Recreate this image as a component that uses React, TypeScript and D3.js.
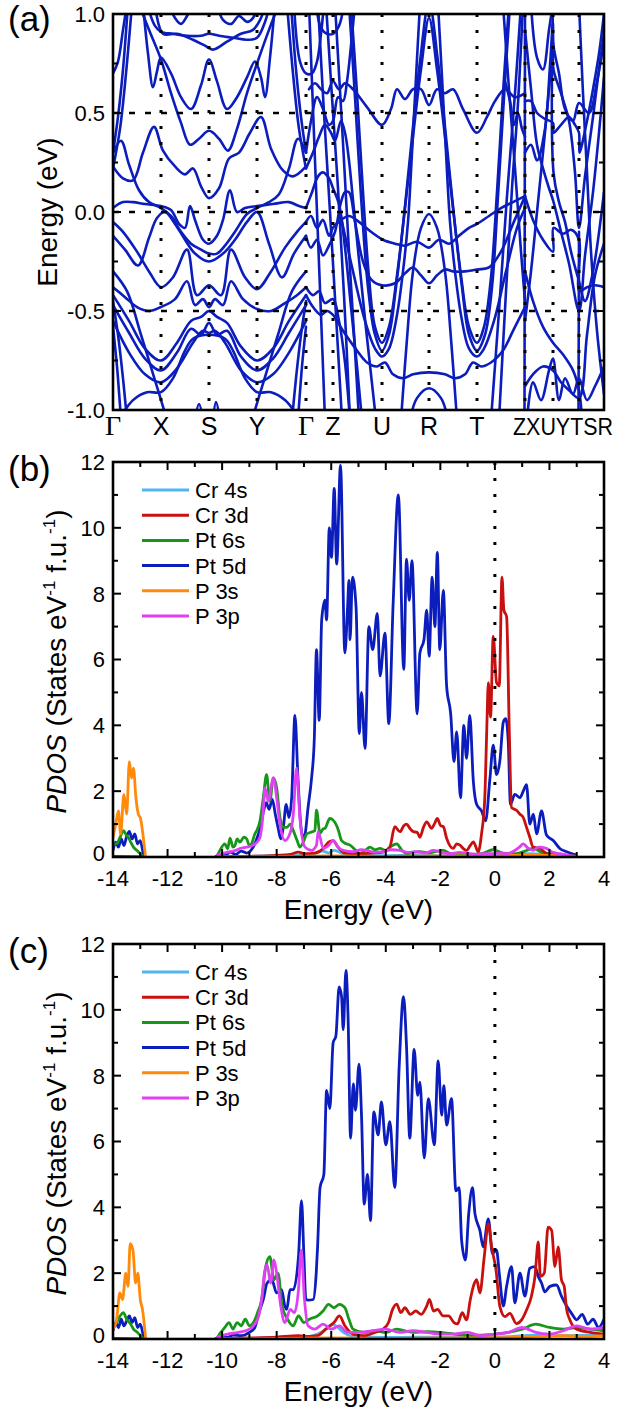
import React from "react";
import * as d3 from "d3";

type P = [number, number];
type Q = [number, number] | null;

// ---------- (a) band structure ----------
const kTicks = [0, 48, 96, 144, 193, 220, 269, 316, 364, 412, 440, 466, 491];
const kNames = ["Γ", "X", "S", "Y", "Γ", "Z", "U", "R", "T"];
const kTail = "ZXUYTSR";
const energyTicks = [1.0, 0.5, 0.0, -0.5, -1.0];
const energyMinor = [0.75, 0.25, -0.25, -0.75];
const energyGrid = [0.5, 0.0, -0.5];

const bands: P[][] = [
  // Γ-X-S-Y-Γ
  [[0, 0.7], [5, 0.76], [10, 0.92], [14, 1.05]],
  [[0, 0.3], [5, 0.48], [10, 0.72], [15, 1.05]],
  [[0, 0.22], [7, 0.42], [13, 0.7], [19, 1.05]],
  [[34, 1.05], [42, 0.94], [48, 0.91], [60, 0.9], [74, 0.89], [88, 0.89], [96, 0.9], [106, 0.89], [120, 0.88], [134, 0.87], [144, 0.88], [152, 0.96], [157, 1.05]],
  [[42, 1.05], [50, 0.9], [64, 0.9], [80, 0.87], [92, 0.84], [100, 0.82], [114, 0.86], [128, 0.9], [140, 0.92], [148, 0.98], [152, 1.05]],
  [[56, 1.05], [62, 0.98], [68, 0.95], [74, 0.99], [80, 1.05]],
  [[104, 1.05], [110, 0.97], [118, 0.95], [126, 0.99], [134, 0.96], [140, 0.98], [144, 1.05]],
  [[26, 1.05], [36, 0.92], [48, 0.77], [58, 0.6], [68, 0.45], [77, 0.34], [86, 0.37], [96, 0.41], [106, 0.37], [115, 0.31], [124, 0.42], [134, 0.6], [144, 0.75], [156, 0.92], [166, 1.05]],
  [[30, 1.05], [35, 0.8], [40, 0.63], [44, 0.71], [48, 0.78], [58, 0.7], [68, 0.58], [78, 0.52], [88, 0.64], [96, 0.77], [104, 0.66], [114, 0.52], [124, 0.58], [134, 0.68], [142, 0.76], [148, 0.68], [152, 0.58], [157, 0.78], [162, 1.05]],
  [[0, 0.23], [10, 0.17], [20, 0.16], [30, 0.3], [41, 0.43], [50, 0.31], [62, 0.23], [72, 0.19], [80, 0.22], [88, 0.13], [96, 0.07], [106, 0.12], [116, 0.27], [126, 0.3], [137, 0.4], [148, 0.48], [158, 0.32], [170, 0.21], [180, 0.18], [193, 0.23]],
  [[0, 0.3], [8, 0.36], [16, 0.24], [26, 0.11], [36, 0.05], [48, 0.02], [58, -0.02], [68, -0.1], [78, -0.16], [88, -0.19], [96, -0.21], [104, -0.21], [112, -0.17], [122, -0.1], [134, -0.01], [144, 0.02], [156, 0.05], [166, 0.09], [176, 0.22], [185, 0.37], [193, 0.3]],
  [[0, 0.02], [10, 0.05], [20, 0.05], [32, 0.04], [48, 0.03], [58, 0.01], [66, -0.06], [72, -0.08], [77, 0.03], [82, -0.04], [90, -0.14], [96, -0.16], [104, -0.12], [110, -0.04], [117, 0.11], [124, 0.0], [132, 0.02], [144, 0.03], [160, 0.04], [176, 0.05], [186, 0.03], [193, 0.02]],
  [[0, -0.12], [12, -0.19], [25, -0.27], [36, -0.13], [44, -0.03], [52, 0.0], [62, -0.06], [72, -0.14], [82, -0.21], [96, -0.25], [110, -0.21], [122, -0.14], [134, -0.05], [144, 0.0], [156, -0.16], [169, -0.33], [181, -0.21], [193, -0.12]],
  [[0, -0.05], [10, -0.1], [24, -0.2], [36, -0.3], [48, -0.38], [60, -0.33], [74, -0.19], [84, -0.42], [96, -0.37], [108, -0.42], [118, -0.19], [132, -0.33], [144, -0.39], [158, -0.3], [172, -0.18], [184, -0.1], [193, -0.05]],
  [[0, -0.38], [12, -0.43], [24, -0.48], [36, -0.5], [48, -0.48], [62, -0.44], [74, -0.35], [82, -0.47], [90, -0.44], [96, -0.48], [102, -0.44], [110, -0.47], [118, -0.35], [130, -0.44], [144, -0.49], [158, -0.5], [172, -0.46], [184, -0.42], [193, -0.38]],
  [[0, -0.42], [16, -0.55], [32, -0.69], [48, -0.75], [64, -0.66], [78, -0.55], [88, -0.53], [96, -0.5], [104, -0.53], [114, -0.56], [128, -0.68], [144, -0.75], [160, -0.69], [176, -0.55], [193, -0.42]],
  [[0, -0.47], [16, -0.61], [32, -0.74], [48, -0.8], [64, -0.71], [78, -0.59], [88, -0.62], [96, -0.56], [104, -0.62], [114, -0.6], [128, -0.73], [144, -0.8], [160, -0.74], [176, -0.61], [193, -0.47]],
  [[0, -0.55], [16, -0.71], [32, -0.82], [48, -0.86], [64, -0.79], [80, -0.66], [90, -0.6], [96, -0.61], [102, -0.6], [112, -0.66], [128, -0.8], [144, -0.86], [160, -0.82], [176, -0.71], [193, -0.55]],
  [[6, -1.05], [20, -0.95], [34, -0.91], [48, -0.91], [60, -0.84], [72, -0.7], [80, -0.64], [96, -0.62], [112, -0.64], [120, -0.7], [132, -0.84], [144, -0.91], [158, -0.91], [172, -0.95], [187, -1.05]],
  [[0, -0.3], [14, -0.4], [28, -0.62], [42, -0.85], [54, -1.05]],
  [[139, -1.05], [151, -0.85], [165, -0.62], [179, -0.4], [193, -0.3]],
  [[0, -0.45], [5, -0.62], [10, -0.84], [14, -1.05]],
  [[0, -0.58], [4, -0.78], [8, -1.05]],
  [[179, -1.05], [183, -0.84], [188, -0.62], [193, -0.45]],
  [[185, -1.05], [189, -0.78], [193, -0.58]],
  [[174, 1.05], [180, 0.7], [186, 0.42], [193, 0.22]],
  [[178, 1.05], [183, 0.72], [188, 0.48], [193, 0.3]],
  [[82, -1.05], [86, -0.97], [90, -1.05]],
  [[100, -1.05], [103, -0.96], [107, -1.05]],
  // Γ-Z-U-R-T-Z
  [[181, 1.05], [187, 0.76], [193, 0.7], [199, 0.7], [204, 0.76], [208, 0.9], [211, 1.05]],
  [[203, 1.05], [208, 0.93], [214, 0.9], [220, 0.9], [226, 0.94], [231, 1.05]],
  [[196, 0.62], [202, 0.65], [208, 0.62], [214, 0.6], [220, 0.66], [226, 0.62], [232, 0.65], [240, 0.62], [254, 0.53], [269, 0.44], [278, 0.52], [284, 0.62], [292, 0.57], [300, 0.62], [308, 0.62], [316, 0.54], [324, 0.62], [332, 0.6], [340, 0.62], [350, 0.52], [364, 0.4], [374, 0.48], [382, 0.56], [392, 0.62], [402, 0.58], [412, 0.6]],
  [[193, 0.3], [198, 0.46], [204, 0.58], [210, 0.52], [216, 0.44], [220, 0.46], [225, 0.58], [230, 0.56], [234, 0.66], [238, 0.84], [242, 1.05]],
  [[193, 0.22], [200, 0.3], [206, 0.38], [212, 0.44], [218, 0.4], [222, 0.36], [228, 0.46], [232, 0.4], [236, 0.26], [240, 0.06], [246, -0.24], [252, -0.54], [258, -0.82], [263, -1.05]],
  [[193, 0.02], [199, 0.1], [205, 0.18], [210, 0.2], [216, 0.17], [220, 0.12], [226, 0.04], [232, -0.18], [238, -0.48], [244, -0.78], [249, -1.05]],
  [[193, -0.05], [198, -0.02], [204, -0.08], [210, -0.04], [216, -0.12], [220, -0.08], [228, -0.04], [236, -0.02], [246, -0.05], [258, -0.1], [270, -0.14], [282, -0.16], [292, -0.17], [304, -0.15], [316, -0.18], [326, -0.14], [336, -0.16], [346, -0.12], [356, -0.08], [364, -0.06], [376, -0.02], [388, 0.02], [400, 0.05], [412, 0.08]],
  [[193, -0.12], [198, -0.18], [204, -0.14], [210, -0.22], [216, -0.17], [222, -0.1], [228, 0.05], [232, 0.1], [236, 0.1], [242, -0.05], [250, -0.25], [258, -0.34], [269, -0.37], [282, -0.36], [292, -0.31], [300, -0.28], [308, -0.32], [316, -0.36], [324, -0.32], [332, -0.29], [340, -0.3], [352, -0.3], [364, -0.29], [376, -0.28], [388, -0.2], [400, -0.06], [412, 0.08]],
  [[193, -0.38], [200, -0.42], [206, -0.4], [212, -0.46], [220, -0.44], [226, -0.55], [232, -0.76], [237, -1.05]],
  [[193, -0.42], [200, -0.48], [208, -0.52], [214, -0.5], [220, -0.52], [230, -0.6], [244, -0.7], [254, -0.76], [264, -0.78], [272, -0.76], [280, -0.82], [290, -0.84], [300, -0.82], [316, -0.81], [332, -0.82], [342, -0.84], [352, -0.82], [360, -0.76], [368, -0.78], [378, -0.76], [390, -0.7], [400, -0.6], [412, -0.48]],
  [[196, 1.05], [200, 0.52], [204, 0.0], [208, -0.52], [212, -1.05]],
  [[205, 1.05], [211, 0.5], [217, 0.0], [223, -0.52], [229, -1.05]],
  [[213, 1.05], [219, 0.58], [225, 0.12], [231, -0.42], [237, -1.05]],
  [[222, 1.05], [226, 0.7], [230, 0.35], [236, -0.2], [242, -0.7], [246, -1.05]],
  [[238, 1.05], [244, 0.6], [250, 0.1], [256, -0.33], [262, -0.58], [269, -0.66], [276, -0.58], [284, -0.32], [292, 0.02], [300, 0.38], [308, 0.72], [316, 0.98], [324, 0.72], [332, 0.38], [340, 0.02], [348, -0.32], [356, -0.58], [364, -0.66], [371, -0.58], [378, -0.33], [384, 0.1], [390, 0.6], [396, 1.05]],
  [[236, 1.05], [242, 0.58], [248, 0.08], [255, -0.38], [262, -0.62], [269, -0.7], [276, -0.62], [283, -0.38], [291, -0.02], [299, 0.38], [307, 0.76], [316, 1.06], [325, 0.76], [333, 0.38], [341, -0.02], [349, -0.38], [356, -0.62], [364, -0.7], [372, -0.62], [379, -0.38], [385, 0.08], [391, 0.58], [397, 1.05]],
  [[226, 0.02], [240, -0.3], [252, -0.55], [262, -0.69], [269, -0.73], [276, -0.69], [284, -0.52], [290, -0.3], [295, -0.05], [299, 0.3], [303, 0.68], [307, 1.05]],
  [[325, 1.05], [329, 0.68], [333, 0.3], [337, -0.05], [342, -0.3], [348, -0.52], [356, -0.69], [364, -0.73], [371, -0.69], [381, -0.55], [393, -0.3], [404, -0.08], [412, 0.02]],
  [[288, -1.05], [294, -0.64], [300, -0.3], [308, -0.08], [316, -0.01], [324, -0.08], [332, -0.3], [338, -0.64], [344, -1.05]],
  [[297, -1.05], [304, -0.94], [316, -0.89], [328, -0.94], [335, -1.05]],
  [[378, -1.05], [386, -0.5], [394, 0.08], [402, 0.6], [408, 1.05]],
  [[386, -1.05], [393, -0.4], [399, 0.12], [405, 0.55], [410, 1.05]],
  [[390, 1.05], [396, 0.62], [402, 0.22], [408, -0.2], [412, -0.45]],
  [[392, 0.66], [397, 0.56], [401, 0.44], [405, 0.5], [409, 0.42], [412, 0.38]],
  // Z|X-U|Y-T|S-R
  [[411.5, -1.05], [412, 1.05]],
  [[412, 0.56], [418, 0.56], [424, 0.5], [432, 0.47], [440, 0.45], [440.5, 0.4], [448, 0.44], [456, 0.48], [462, 0.44], [466, 0.4], [466.5, 0.3], [474, 0.46], [480, 0.62], [486, 0.8], [491, 1.0]],
  [[412, 0.08], [420, -0.04], [430, -0.14], [440, -0.2], [440.5, -0.08], [450, -0.11], [458, -0.09], [466, -0.14], [466.5, -0.4], [474, -0.38], [482, -0.37], [491, -0.38]],
  [[412, -0.55], [418, -0.3], [424, 0.0], [430, 0.3], [436, 0.62], [440, 0.86], [440.5, 0.72], [448, 0.6], [456, 0.46], [462, 0.2], [466, -0.08], [472, 0.18], [480, 0.48], [486, 0.72], [491, 0.9]],
  [[412, 0.92], [418, 0.62], [424, 0.34], [430, 0.22], [436, 0.12], [440, 0.06], [448, -0.1], [456, -0.26], [466, -0.5], [472, -0.22], [480, 0.1], [486, 0.4], [491, 0.68]],
  [[412, -0.88], [420, -0.82], [430, -0.78], [440, -0.8], [448, -0.86], [456, -0.9], [466, -0.94], [474, -0.62], [482, -0.32], [491, -0.16]],
  [[412, 0.3], [418, 0.34], [424, 0.26], [432, 0.42], [437, 0.74], [440, 0.96], [440.5, 0.84], [446, 0.7], [452, 0.52], [460, 0.46], [466, 0.55], [476, 0.5], [484, 0.66], [491, 0.86]],
  [[412, -0.3], [420, -0.45], [430, -0.58], [440, -0.66], [450, -0.72], [460, -0.8], [466, -0.9], [469, -1.05]],
  [[414, -1.05], [420, -0.86], [428, -0.95], [436, -0.8], [440, -0.74], [446, -0.95], [452, -0.84], [460, -0.92], [466, -0.84], [474, -0.95], [482, -0.88], [491, -0.78]],
  [[466, 1.05], [470, 0.6], [474, 0.2], [478, -0.2], [484, -0.6], [491, -0.92]],
  [[418, 1.05], [424, 0.78], [430, 0.72], [436, 0.92], [440, 1.05]],
  [[465.5, -1.05], [466, -0.1]],
  [[440, 1.05], [440.5, 0.2], [446, 0.05], [452, -0.05], [458, -0.2], [466, -0.35], [472, -0.45], [480, -0.3], [491, 0.1]],
];

// ---------- (b), (c) PDOS ----------
const orbitals = ["Cr 4s", "Cr 3d", "Pt 6s", "Pt 5d", "P 3s", "P 3p"];
const orbitalColors = ["#4fb6ee", "#c8100e", "#17961a", "#0c1dbd", "#ff8a0a", "#e040f4"];
const drawOrder = [3, 0, 2, 1, 4, 5];
const pdosXTicks = [-14, -12, -10, -8, -6, -4, -2, 0, 2, 4];
const pdosYTicks = [0, 2, 4, 6, 8, 10, 12];

const bCr4s: Q[] = [[-10.2, 0], [-9, 0.02], [-8, 0.04], [-7, 0.05], [-6.6, 0.1], [-6.3, 0.18], [-6.1, 0.12], [-5.9, 0.2], [-5.7, 0.15], [-5.5, 0.08], [-5, 0.05], [-4, 0.04], [-3, 0.05], [-2, 0.04], [-1, 0.03], [0, 0.04], [0.8, 0.08], [1.3, 0.1], [1.8, 0.08], [2.5, 0.04], [3, 0.01]];
const bCr3d: Q[] = [[-14, 0.02], [-12.84, 0], null, [-10.25, 0], [-9, 0.02], [-8, 0.05], [-7.5, 0.08], [-7.2, 0.15], [-7, 0.1], [-6.6, 0.12], [-6.3, 0.25], [-6.1, 0.45], [-5.93, 0.5], [-5.75, 0.3], [-5.5, 0.12], [-5, 0.1], [-4.5, 0.12], [-4.1, 0.15], [-3.85, 0.3], [-3.67, 0.92], [-3.48, 0.77], [-3.34, 0.95], [-3.24, 1.0], [-3.1, 0.85], [-2.99, 0.77], [-2.85, 0.75], [-2.75, 0.6], [-2.62, 0.9], [-2.5, 1.07], [-2.32, 0.87], [-2.22, 1.0], [-2.11, 1.17], [-1.99, 0.95], [-1.89, 0.92], [-1.77, 0.57], [-1.53, 0.26], [-1.4, 0.4], [-1.28, 0.36], [-1.15, 0.25], [-1.04, 0.2], [-0.9, 0.35], [-0.79, 0.46], [-0.61, 0.16], [-0.49, 0.7], [-0.37, 1.8], [-0.3, 3.8], [-0.24, 5.3], [-0.16, 4.25], [-0.06, 6.7], [0.06, 5.3], [0.16, 5.2], [0.26, 8.5], [0.33, 7.5], [0.43, 7.3], [0.53, 3.75], [0.61, 1.5], [0.79, 1.42], [0.92, 1.3], [1.04, 1.2], [1.16, 0.9], [1.28, 0.6], [1.4, 0.3], [1.65, 0.26], [1.89, 0.1], [2.2, 0.05], [2.6, 0.04], [3, 0.02]];
const bPt6s: Q[] = [[-14, 0.4], [-13.87, 0.4], [-13.74, 0.6], [-13.62, 0.8], [-13.5, 0.65], [-13.44, 0.6], [-13.35, 0.45], [-13.25, 0.3], [-13.1, 0.18], [-13, 0.1], [-12.88, 0], null, [-10.2, 0], [-10.08, 0.2], [-9.9, 0.4], [-9.8, 0.25], [-9.71, 0.57], [-9.6, 0.3], [-9.53, 0.35], [-9.45, 0.55], [-9.35, 0.45], [-9.2, 0.6], [-9.1, 0.55], [-9, 0.35], [-8.92, 0.4], [-8.8, 0.7], [-8.73, 0.8], [-8.61, 1.1], [-8.49, 1.8], [-8.37, 2.5], [-8.25, 1.7], [-8.12, 2.4], [-8, 2.1], [-7.88, 1.2], [-7.75, 0.9], [-7.63, 0.9], [-7.5, 1.0], [-7.39, 0.8], [-7.25, 0.5], [-7.15, 0.3], [-7, 0.5], [-6.9, 0.7], [-6.75, 0.75], [-6.6, 0.8], [-6.54, 1.42], [-6.41, 0.72], [-6.3, 0.85], [-6.23, 0.87], [-6.05, 1.17], [-5.93, 1.12], [-5.8, 0.95], [-5.74, 0.82], [-5.62, 0.5], [-5.45, 0.4], [-5.31, 0.36], [-5.1, 0.2], [-4.95, 0.1], [-4.75, 0.2], [-4.58, 0.3], [-4.4, 0.22], [-4.21, 0.26], [-4, 0.2], [-3.85, 0.3], [-3.6, 0.4], [-3.4, 0.2], [-3.24, 0.1], [-3, 0.15], [-2.75, 0.16], [-2.4, 0.12], [-2.1, 0.18], [-1.89, 0.2], [-1.6, 0.1], [-1.28, 0.1], [-0.9, 0.08], [-0.5, 0.1], [-0.06, 0.22], [0.3, 0.12], [0.79, 0.1], [1.1, 0.18], [1.4, 0.26], [1.7, 0.15], [2.02, 0.1], [2.3, 0.08], [2.63, 0.05], [3, 0.02]];
const bPt5d: Q[] = [[-14, 0.2], [-13.9, 0.45], [-13.8, 0.3], [-13.7, 0.55], [-13.6, 0.35], [-13.5, 0.62], [-13.4, 0.78], [-13.3, 0.55], [-13.2, 0.7], [-13.1, 0.4], [-13, 0.5], [-12.9, 0.15], [-12.84, 0], null, [-10.25, 0], [-10.1, 0.08], [-9.9, 0.05], [-9.7, 0.15], [-9.5, 0.08], [-9.3, 0.18], [-9.1, 0.12], [-8.9, 0.25], [-8.75, 0.5], [-8.6, 0.9], [-8.48, 1.4], [-8.38, 1.65], [-8.28, 1.45], [-8.16, 1.75], [-8.05, 1.3], [-7.95, 0.9], [-7.85, 0.55], [-7.75, 0.95], [-7.65, 1.6], [-7.55, 1.2], [-7.45, 1.8], [-7.33, 4.3], [-7.22, 2.4], [-7.12, 1.0], [-7.04, 0.6], [-6.96, 0.7], [-6.85, 1.5], [-6.72, 2.4], [-6.62, 3.6], [-6.54, 6.3], [-6.44, 4.15], [-6.35, 7.2], [-6.23, 7.8], [-6.17, 7.2], [-6.07, 10.0], [-5.99, 9.1], [-5.89, 11.2], [-5.8, 8.9], [-5.66, 11.9], [-5.5, 6.2], [-5.4, 7.6], [-5.35, 8.4], [-5.31, 6.6], [-5.22, 8.5], [-5.09, 7.6], [-4.97, 3.75], [-4.89, 5.0], [-4.76, 3.3], [-4.62, 7.0], [-4.48, 6.3], [-4.31, 7.4], [-4.21, 5.5], [-4.03, 6.8], [-3.89, 4.05], [-3.73, 7.7], [-3.54, 11.0], [-3.34, 5.7], [-3.24, 9.05], [-3.14, 7.8], [-3.04, 9.0], [-2.85, 4.35], [-2.75, 6.2], [-2.6, 6.6], [-2.5, 7.5], [-2.41, 6.1], [-2.3, 8.5], [-2.2, 7.0], [-2.11, 9.25], [-2.02, 6.3], [-1.89, 8.1], [-1.77, 5.2], [-1.62, 4.35], [-1.5, 2.9], [-1.4, 3.8], [-1.26, 1.8], [-1.14, 4.0], [-1.04, 3.0], [-0.92, 4.3], [-0.79, 2.3], [-0.67, 1.6], [-0.49, 1.4], [-0.34, 1.1], [-0.18, 2.4], [-0.06, 3.4], [0.06, 2.5], [0.18, 2.9], [0.31, 4.1], [0.4, 4.2], [0.49, 3.5], [0.57, 1.6], [0.73, 1.9], [0.92, 1.8], [1.04, 2.0], [1.16, 2.2], [1.28, 1.0], [1.41, 1.3], [1.53, 0.7], [1.71, 1.4], [1.89, 0.67], [2.14, 0.5], [2.38, 0.26], [2.63, 0.16], [2.99, 0.06]];
const bP3s: Q[] = [[-14, 0.6], [-13.9, 1.0], [-13.8, 1.4], [-13.72, 0.7], [-13.6, 1.9], [-13.5, 1.3], [-13.4, 2.9], [-13.32, 2.4], [-13.25, 2.7], [-13.16, 1.8], [-13.07, 1.3], [-12.99, 1.17], [-12.89, 0.6], [-12.81, 0], null, [-10.2, 0], [-8, 0.02], [-6, 0.03], [-4, 0.02], [-2, 0.03], [0, 0.03], [1, 0.06], [2, 0.05], [3, 0.01]];
const bP3p: Q[] = [[-10.2, 0.05], [-10, 0.1], [-9.71, 0.16], [-9.5, 0.2], [-9.35, 0.26], [-9.1, 0.3], [-8.86, 0.36], [-8.72, 0.45], [-8.61, 0.6], [-8.5, 1.3], [-8.43, 2.1], [-8.31, 1.7], [-8.12, 2.4], [-8, 1.8], [-7.88, 1.0], [-7.7, 0.5], [-7.51, 0.72], [-7.39, 1.3], [-7.27, 2.7], [-7.15, 1.2], [-6.96, 0.3], [-6.72, 0.2], [-6.54, 0.36], [-6.48, 0.77], [-6.29, 0.26], [-6.1, 0.35], [-5.93, 0.5], [-5.75, 0.3], [-5.56, 0.2], [-5.19, 0.16], [-4.9, 0.22], [-4.7, 0.2], [-4.4, 0.14], [-4.09, 0.16], [-3.8, 0.22], [-3.48, 0.2], [-3.2, 0.14], [-2.87, 0.16], [-2.55, 0.12], [-2.26, 0.2], [-1.95, 0.14], [-1.65, 0.1], [-1.3, 0.14], [-1.04, 0.12], [-0.7, 0.08], [-0.43, 0.1], [-0.06, 0.1], [0.2, 0.12], [0.43, 0.1], [0.7, 0.18], [0.9, 0.3], [1.04, 0.4], [1.2, 0.28], [1.4, 0.2], [1.6, 0.3], [1.89, 0.26], [2.1, 0.15], [2.38, 0.1], [2.87, 0.02]];

const cCr4s: Q[] = [[-10.2, 0], [-9, 0.02], [-8, 0.04], [-7, 0.06], [-6.5, 0.15], [-6.2, 0.3], [-5.95, 0.45], [-5.75, 0.35], [-5.55, 0.2], [-5.2, 0.08], [-4.5, 0.06], [-3.5, 0.05], [-2.5, 0.06], [-1.5, 0.05], [-0.5, 0.05], [0.5, 0.07], [1.5, 0.12], [2.5, 0.1], [3.5, 0.12], [4, 0.1]];
const cCr3d: Q[] = [[-14, 0.02], [-12.84, 0], null, [-10.25, 0], [-9, 0.03], [-8, 0.06], [-7.2, 0.1], [-6.8, 0.08], [-6.5, 0.1], [-6.2, 0.3], [-5.9, 0.5], [-5.7, 0.7], [-5.5, 0.4], [-5.2, 0.15], [-4.8, 0.1], [-4.4, 0.2], [-4.1, 0.3], [-3.9, 0.5], [-3.75, 0.9], [-3.6, 1.06], [-3.45, 0.8], [-3.3, 0.95], [-3.1, 0.75], [-2.9, 0.85], [-2.7, 0.75], [-2.5, 1.0], [-2.4, 1.2], [-2.25, 0.85], [-2.1, 0.9], [-1.9, 0.7], [-1.7, 0.7], [-1.5, 0.5], [-1.37, 0.46], [-1.2, 0.8], [-1.04, 0.58], [-0.9, 1.2], [-0.79, 1.6], [-0.67, 1.8], [-0.55, 1.4], [-0.39, 2.5], [-0.24, 3.5], [-0.12, 2.8], [0.04, 2.1], [0.18, 1.0], [0.37, 0.68], [0.55, 0.78], [0.79, 0.47], [0.98, 0.58], [1.16, 0.88], [1.34, 1.3], [1.47, 1.9], [1.59, 2.95], [1.67, 1.9], [1.81, 2.0], [1.95, 3.4], [2.08, 3.3], [2.2, 2.2], [2.32, 2.8], [2.44, 1.8], [2.54, 1.6], [2.63, 0.9], [2.75, 0.58], [3, 0.3], [3.5, 0.2], [4, 0.15]];
const cPt6s: Q[] = [[-14, 0.45], [-13.87, 0.5], [-13.74, 0.7], [-13.62, 0.8], [-13.5, 0.6], [-13.35, 0.45], [-13.25, 0.3], [-13.1, 0.2], [-12.88, 0], null, [-10.2, 0], [-10.05, 0.2], [-9.9, 0.35], [-9.75, 0.5], [-9.6, 0.3], [-9.45, 0.5], [-9.3, 0.4], [-9.15, 0.6], [-9, 0.4], [-8.85, 0.5], [-8.7, 0.8], [-8.55, 1.2], [-8.4, 2.2], [-8.25, 2.5], [-8.1, 1.8], [-7.95, 2.0], [-7.8, 1.0], [-7.6, 0.6], [-7.4, 0.4], [-7.2, 0.7], [-7, 0.5], [-6.8, 0.6], [-6.5, 0.7], [-6.3, 0.85], [-6.1, 1.05], [-5.9, 0.95], [-5.7, 1.05], [-5.5, 0.95], [-5.35, 0.6], [-5.2, 0.3], [-4.8, 0.2], [-4.4, 0.25], [-4, 0.2], [-3.6, 0.3], [-3, 0.2], [-2.5, 0.22], [-2, 0.2], [-1.5, 0.15], [-1, 0.1], [-0.5, 0.12], [0, 0.15], [0.5, 0.2], [1, 0.3], [1.5, 0.45], [2, 0.35], [2.5, 0.3], [3, 0.35], [3.5, 0.3], [4, 0.25]];
const cPt5d: Q[] = [[-14, 0.25], [-13.9, 0.5], [-13.8, 0.35], [-13.7, 0.6], [-13.6, 0.4], [-13.5, 0.55], [-13.4, 0.7], [-13.3, 0.5], [-13.2, 0.65], [-13.1, 0.35], [-13, 0.45], [-12.9, 0.15], [-12.84, 0], null, [-10.25, 0], [-10, 0.08], [-9.8, 0.05], [-9.6, 0.12], [-9.3, 0.1], [-9, 0.2], [-8.8, 0.35], [-8.65, 0.8], [-8.49, 1.2], [-8.35, 1.7], [-8.18, 1.8], [-8, 1.4], [-7.82, 1.5], [-7.7, 1.0], [-7.63, 0.9], [-7.51, 1.5], [-7.39, 1.5], [-7.2, 2.5], [-7.09, 4.2], [-7, 2.5], [-6.93, 1.2], [-6.84, 1.18], [-6.66, 1.2], [-6.55, 2.0], [-6.5, 2.8], [-6.41, 4.6], [-6.27, 5.0], [-6.17, 7.55], [-6.05, 7.0], [-5.93, 9.0], [-5.83, 9.2], [-5.71, 10.7], [-5.62, 10.4], [-5.56, 9.4], [-5.46, 11.2], [-5.38, 9.7], [-5.29, 6.1], [-5.19, 7.75], [-5.11, 6.95], [-4.98, 8.35], [-4.89, 6.8], [-4.79, 4.1], [-4.67, 5.0], [-4.56, 3.6], [-4.44, 6.9], [-4.28, 6.2], [-4.16, 7.2], [-4, 5.9], [-3.85, 6.6], [-3.67, 4.6], [-3.51, 8.25], [-3.35, 10.4], [-3.24, 8.9], [-3.12, 6.1], [-2.96, 8.8], [-2.83, 7.4], [-2.75, 7.8], [-2.59, 5.5], [-2.44, 7.3], [-2.22, 5.9], [-2.08, 8.45], [-1.95, 6.8], [-1.87, 7.7], [-1.77, 6.5], [-1.59, 7.3], [-1.43, 4.5], [-1.31, 4.6], [-1.22, 3.0], [-1.08, 2.4], [-0.96, 3.8], [-0.82, 4.6], [-0.73, 3.8], [-0.55, 3.3], [-0.43, 2.8], [-0.24, 3.65], [-0.09, 2.6], [0.06, 2.7], [0.16, 2.0], [0.31, 1.0], [0.43, 1.6], [0.61, 2.2], [0.73, 1.1], [0.92, 2.0], [1.1, 1.3], [1.28, 2.15], [1.47, 2.2], [1.59, 1.9], [1.71, 1.7], [1.83, 1.43], [2.02, 1.6], [2.26, 1.64], [2.44, 1.3], [2.63, 1.0], [2.81, 0.78], [3, 0.58], [3.2, 0.75], [3.4, 0.45], [3.6, 0.6], [3.8, 0.35], [4, 0.6]];
const cP3s: Q[] = [[-14, 0.3], [-13.87, 0.58], [-13.75, 1.4], [-13.65, 1.2], [-13.53, 2.0], [-13.45, 1.6], [-13.37, 2.9], [-13.27, 2.7], [-13.17, 1.7], [-13.09, 2.0], [-13, 1.2], [-12.92, 0.9], [-12.8, 0], null, [-10.2, 0], [-8, 0.02], [-6, 0.03], [-4, 0.02], [-2, 0.03], [0, 0.04], [1.5, 0.08], [2.5, 0.1], [3.5, 0.08], [4, 0.1]];
const cP3p: Q[] = [[-10.2, 0.05], [-9.8, 0.15], [-9.4, 0.2], [-9, 0.3], [-8.7, 0.6], [-8.55, 1.2], [-8.45, 2.0], [-8.35, 2.25], [-8.22, 1.7], [-8.1, 2.4], [-8, 2.0], [-7.85, 1.0], [-7.7, 0.5], [-7.5, 0.9], [-7.35, 0.8], [-7.2, 1.5], [-7.1, 2.7], [-6.98, 1.2], [-6.85, 0.4], [-6.6, 0.3], [-6.3, 0.45], [-6, 0.3], [-5.7, 0.4], [-5.4, 0.2], [-5, 0.2], [-4.5, 0.25], [-4, 0.3], [-3.5, 0.2], [-3, 0.25], [-2.5, 0.2], [-2, 0.15], [-1.5, 0.15], [-1, 0.2], [-0.5, 0.1], [0, 0.15], [0.5, 0.2], [1, 0.35], [1.5, 0.2], [2, 0.15], [2.5, 0.25], [3, 0.4], [3.5, 0.3], [4, 0.35]];

const FONT = "'Liberation Sans', Arial, Helvetica, sans-serif";
const SERIF = "'Liberation Serif', 'Times New Roman', serif";
const LEFT = 113;
const RIGHT = 604;
const BLUE = "#0c1dbd";

function BandPanel() {
  const top = 14, bottom = 410;
  const x = d3.scaleLinear().domain([0, 491]).range([LEFT, RIGHT]);
  const y = d3.scaleLinear().domain([-1, 1]).range([bottom, top]);
  const line = d3.line<P>().x(d => x(d[0])).y(d => y(d[1])).curve(d3.curveCatmullRom.alpha(0.5));

  return (
    <g>
      <defs>
        <clipPath id="clipA">
          <rect x={LEFT} y={top} width={RIGHT - LEFT} height={bottom - top} />
        </clipPath>
      </defs>
      <g clipPath="url(#clipA)">
        {bands.map((b, i) => (
          <path key={i} d={line(b) || ""} fill="none" stroke={BLUE} strokeWidth={2.6} strokeLinecap="round" />
        ))}
      </g>
      {energyGrid.map(e => (
        <line key={e} x1={LEFT} x2={RIGHT} y1={y(e)} y2={y(e)} stroke="#000" strokeWidth={2.5} strokeDasharray="6 10" />
      ))}
      {kTicks.slice(1, -1).map(k => (
        <line key={k} x1={x(k)} x2={x(k)} y1={top} y2={bottom} stroke="#000" strokeWidth={3} strokeDasharray="3 13" />
      ))}
      {energyMinor.map(e => (
        <g key={e}>
          <line x1={LEFT} x2={LEFT + 5} y1={y(e)} y2={y(e)} stroke="#000" strokeWidth={2} />
          <line x1={RIGHT - 5} x2={RIGHT} y1={y(e)} y2={y(e)} stroke="#000" strokeWidth={2} />
        </g>
      ))}
      {energyTicks.map(e => (
        <g key={e}>
          <line x1={LEFT} x2={LEFT + 8} y1={y(e)} y2={y(e)} stroke="#000" strokeWidth={2} />
          <line x1={RIGHT - 8} x2={RIGHT} y1={y(e)} y2={y(e)} stroke="#000" strokeWidth={2} />
          <text x={105} y={y(e)} dy="0.36em" textAnchor="end" fontSize={22} fontFamily={FONT}>
            {e.toFixed(1)}
          </text>
        </g>
      ))}
      <rect x={LEFT} y={top} width={RIGHT - LEFT} height={bottom - top} fill="none" stroke="#000" strokeWidth={2.6} />
      {kNames.map((n, i) => (
        <text key={i} x={x(kTicks[i])} y={435} textAnchor="middle" fontSize={n === "Γ" ? 28 : 25}
          fontFamily={n === "Γ" ? SERIF : FONT}>
          {n}
        </text>
      ))}
      <text x={513} y={435} fontSize={23} fontFamily={FONT} textLength={100} lengthAdjust="spacingAndGlyphs">
        {kTail}
      </text>
      <text transform={`translate(57,${(top + bottom) / 2}) rotate(-90)`} textAnchor="middle" fontSize={28} fontFamily={FONT}>
        Energy (eV)
      </text>
      <text x={8} y={31} fontSize={35} fontFamily={FONT}>(a)</text>
    </g>
  );
}

function PdosPanel({ top, label, series }: { top: number; label: string; series: Q[][] }) {
  const bottom = top + 395;
  const x = d3.scaleLinear().domain([-14, 4]).range([LEFT, RIGHT]);
  const y = d3.scaleLinear().domain([0, 12]).range([bottom, top]);
  const line = d3.line<Q>().defined(d => d !== null).x(d => x((d as P)[0])).y(d => y((d as P)[1]))
    .curve(d3.curveMonotoneX);
  const minorX = d3.range(-13, 4, 2);
  const minorY = d3.range(1, 12, 2);
  const clipId = "clip" + label.replace(/[()]/g, "");

  return (
    <g>
      <defs>
        <clipPath id={clipId}>
          <rect x={LEFT} y={top} width={RIGHT - LEFT} height={bottom - top} />
        </clipPath>
      </defs>
      <g clipPath={`url(#${clipId})`}>
        {drawOrder.map(i => (
          <path key={i} d={line(series[i]) || ""} fill="none" stroke={orbitalColors[i]} strokeWidth={2.8}
            strokeLinejoin="round" />
        ))}
      </g>
      <line x1={x(0)} x2={x(0)} y1={top} y2={bottom} stroke="#000" strokeWidth={3} strokeDasharray="3 13" />
      {pdosXTicks.map(t => (
        <g key={t}>
          <line x1={x(t)} x2={x(t)} y1={bottom} y2={bottom - 8} stroke="#000" strokeWidth={2} />
          <line x1={x(t)} x2={x(t)} y1={top} y2={top + 8} stroke="#000" strokeWidth={2} />
          <text x={x(t)} y={bottom + 29} textAnchor="middle" fontSize={22} fontFamily={FONT}>{t}</text>
        </g>
      ))}
      {minorX.map(t => (
        <g key={t}>
          <line x1={x(t)} x2={x(t)} y1={bottom} y2={bottom - 5} stroke="#000" strokeWidth={2} />
          <line x1={x(t)} x2={x(t)} y1={top} y2={top + 5} stroke="#000" strokeWidth={2} />
        </g>
      ))}
      {pdosYTicks.map(t => (
        <g key={t}>
          <line x1={LEFT} x2={LEFT + 8} y1={y(t)} y2={y(t)} stroke="#000" strokeWidth={2} />
          <line x1={RIGHT - 8} x2={RIGHT} y1={y(t)} y2={y(t)} stroke="#000" strokeWidth={2} />
          <text x={105} y={y(t)} dy={t === 0 ? "0.2em" : "0.36em"} textAnchor="end" fontSize={22} fontFamily={FONT}>{t}</text>
        </g>
      ))}
      {minorY.map(t => (
        <g key={t}>
          <line x1={LEFT} x2={LEFT + 5} y1={y(t)} y2={y(t)} stroke="#000" strokeWidth={2} />
          <line x1={RIGHT - 5} x2={RIGHT} y1={y(t)} y2={y(t)} stroke="#000" strokeWidth={2} />
        </g>
      ))}
      <rect x={LEFT} y={top} width={RIGHT - LEFT} height={bottom - top} fill="none" stroke="#000" strokeWidth={2.6} />
      {orbitals.map((o, i) => (
        <g key={o}>
          <line x1={142} x2={189} y1={top + 28 + i * 25.2} y2={top + 28 + i * 25.2} stroke={orbitalColors[i]} strokeWidth={3} />
          <text x={195} y={top + 28 + i * 25.2} dy="0.36em" fontSize={22} fontFamily={FONT}>{o}</text>
        </g>
      ))}
      <text x={(LEFT + RIGHT) / 2} y={bottom + 62} textAnchor="middle" fontSize={28} fontFamily={FONT}>
        Energy (eV)
      </text>
      <text transform={`translate(66,${(top + bottom) / 2 + 2}) rotate(-90)`} textAnchor="middle" fontSize={28} fontFamily={FONT}>
        <tspan fontStyle="italic">PDOS</tspan>
        <tspan> (States eV</tspan>
        <tspan dy={-11} fontSize={17}>-1</tspan>
        <tspan dy={11}> f.u.</tspan>
        <tspan dy={-11} fontSize={17}>-1</tspan>
        <tspan dy={11}>)</tspan>
      </text>
      <text x={8} y={top + 19} fontSize={35} fontFamily={FONT}>{label}</text>
    </g>
  );
}

export default function App() {
  return (
    <svg width={622} height={1412} style={{ position: "absolute", left: 0, top: 0, background: "#fff" }}>
      <BandPanel />
      <PdosPanel top={462} label="(b)" series={[bCr4s, bCr3d, bPt6s, bPt5d, bP3s, bP3p]} />
      <PdosPanel top={944} label="(c)" series={[cCr4s, cCr3d, cPt6s, cPt5d, cP3s, cP3p]} />
    </svg>
  );
}
